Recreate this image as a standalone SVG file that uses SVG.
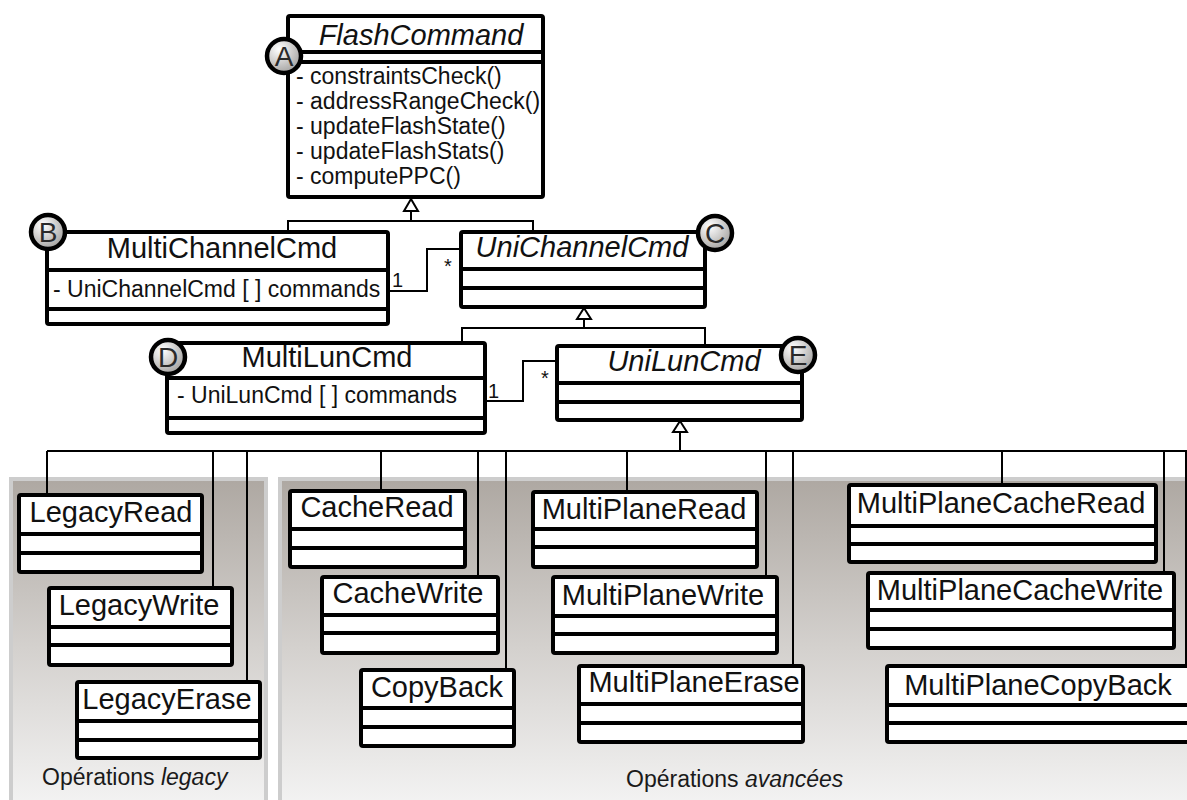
<svg xmlns="http://www.w3.org/2000/svg" width="1187" height="800" viewBox="0 0 1187 800">
  <defs>
    <linearGradient id="panelFill" x1="0" y1="0" x2="0" y2="1">
      <stop offset="0" stop-color="#aea8a2"/>
      <stop offset="0.5" stop-color="#d4d1ce"/>
      <stop offset="1" stop-color="#f6f6f6"/>
    </linearGradient>
    <radialGradient id="badgeFill" cx="0.35" cy="0.3" r="0.8">
      <stop offset="0" stop-color="#ffffff"/>
      <stop offset="1" stop-color="#9c9a98"/>
    </radialGradient>
    <style>
      .box { fill: #ffffff; stroke: #000; stroke-width: 4; }
      .div { stroke: #000; stroke-width: 4; }
      .title { font-family: "Liberation Sans", Arial, sans-serif; font-size: 29px; fill: #111; text-anchor: middle; }
      .abstract { font-style: italic; }
      .member { font-family: "Liberation Sans", Arial, sans-serif; font-size: 23px; fill: #111; }
      .mult { font-family: "Liberation Sans", Arial, sans-serif; font-size: 20px; fill: #111; }
      .panel { fill: url(#panelFill); stroke: #cdcdcd; stroke-width: 4; }
      .caption { font-family: "Liberation Sans", Arial, sans-serif; font-size: 23px; fill: #1a1a1a; }
      .wire { fill: none; stroke: #000; stroke-width: 2; }
      .tri { fill: #fff; stroke: #000; stroke-width: 2; }
      .badge circle { fill: url(#badgeFill); stroke: #000; stroke-width: 4.5; }
      .badge text { font-family: "Liberation Sans", Arial, sans-serif; font-size: 28px; fill: #2a2a2a; text-anchor: middle; }
    </style>
  </defs>

  <!-- package backgrounds -->
  <g id="pkg-legacy">
    <rect class="panel" x="11" y="479" width="255" height="340"/>
    <text class="caption" x="42" y="785">Opérations <tspan font-style="italic">legacy</tspan></text>
  </g>
  <g id="pkg-advanced">
    <rect class="panel" x="280" y="479" width="930" height="340"/>
    <text class="caption" x="626" y="787">Opérations <tspan font-style="italic">avancées</tspan></text>
  </g>

  <!-- connectors -->
  <g id="connectors">
    <!-- generalization to FlashCommand -->
    <polyline class="wire" points="288,232 288,221 533,221 533,232"/>
    <line class="wire" x1="411" y1="221" x2="411" y2="211"/>
    <polygon class="tri" points="411,199 404,211 418,211"/>
    <!-- generalization to UniChannelCmd -->
    <polyline class="wire" points="462,343 462,328 705,328 705,346"/>
    <line class="wire" x1="584" y1="328" x2="584" y2="319"/>
    <polygon class="tri" points="584,308 577,319 591,319"/>
    <!-- generalization to UniLunCmd -->
    <line class="wire" x1="680" y1="451" x2="680" y2="432"/>
    <polygon class="tri" points="680,421 673,432 687,432"/>
    <line class="wire" x1="47" y1="451" x2="1187" y2="451"/>
    <path class="wire" d="M47,451V495 M213,451V588 M247,451V682 M381,451V491 M478,451V577 M506,451V670 M627,451V492 M766,451V577 M793,451V666 M1002,451V485 M1164,451V573 M1186,451V666"/>
    <!-- associations -->
    <polyline class="wire" points="388,291 427,291 427,249 461,249"/>
    <text class="mult" x="392" y="287">1</text>
    <text class="mult" x="444" y="273">*</text>
    <polyline class="wire" points="485,401 523,401 523,361 557,361"/>
    <text class="mult" x="488" y="398">1</text>
    <text class="mult" x="541" y="385">*</text>
  </g>

  <!-- classes -->
  <g id="FlashCommand">
    <rect class="box" x="288" y="16" width="255" height="181" rx="2"/>
    <line class="div" x1="288" y1="52" x2="543" y2="52"/>
    <line class="div" x1="288" y1="62" x2="543" y2="62"/>
    <text class="title abstract" x="421" y="45">FlashCommand</text>
    <text class="member" x="296" y="84">- constraintsCheck()</text>
    <text class="member" x="296" y="109">- addressRangeCheck()</text>
    <text class="member" x="296" y="134">- updateFlashState()</text>
    <text class="member" x="296" y="159">- updateFlashStats()</text>
    <text class="member" x="296" y="184">- computePPC()</text>
  </g>

  <g id="MultiChannelCmd">
    <rect class="box" x="47" y="232" width="341" height="92" rx="2"/>
    <line class="div" x1="47" y1="270" x2="388" y2="270"/>
    <line class="div" x1="47" y1="309" x2="388" y2="309"/>
    <text class="title" x="222" y="258">MultiChannelCmd</text>
    <text class="member" x="53" y="297">- UniChannelCmd [ ] commands</text>
  </g>

  <g id="UniChannelCmd">
    <rect class="box" x="461" y="232" width="244" height="75" rx="2"/>
    <line class="div" x1="461" y1="269" x2="705" y2="269"/>
    <line class="div" x1="461" y1="288" x2="705" y2="288"/>
    <text class="title abstract" x="582" y="257">UniChannelCmd</text>
  </g>

  <g id="MultiLunCmd">
    <rect class="box" x="167" y="343" width="318" height="90" rx="2"/>
    <line class="div" x1="167" y1="378" x2="485" y2="378"/>
    <line class="div" x1="167" y1="418" x2="485" y2="418"/>
    <text class="title" x="327" y="367">MultiLunCmd</text>
    <text class="member" x="177" y="403">- UniLunCmd [ ] commands</text>
  </g>

  <g id="UniLunCmd">
    <rect class="box" x="557" y="346" width="245" height="74" rx="2"/>
    <line class="div" x1="557" y1="383" x2="802" y2="383"/>
    <line class="div" x1="557" y1="402" x2="802" y2="402"/>
    <text class="title abstract" x="684" y="371">UniLunCmd</text>
  </g>

  <g id="LegacyRead">
    <rect class="box" x="19" y="495" width="183" height="77" rx="2"/>
    <line class="div" x1="19" y1="534" x2="202" y2="534"/>
    <line class="div" x1="19" y1="553" x2="202" y2="553"/>
    <text class="title" x="111" y="522">LegacyRead</text>
  </g>
  <g id="LegacyWrite">
    <rect class="box" x="49" y="588" width="183" height="77" rx="2"/>
    <line class="div" x1="49" y1="627" x2="232" y2="627"/>
    <line class="div" x1="49" y1="645" x2="232" y2="645"/>
    <text class="title" x="139" y="615">LegacyWrite</text>
  </g>
  <g id="LegacyErase">
    <rect class="box" x="77" y="682" width="183" height="76" rx="2"/>
    <line class="div" x1="77" y1="721" x2="260" y2="721"/>
    <line class="div" x1="77" y1="740" x2="260" y2="740"/>
    <text class="title" x="167" y="709">LegacyErase</text>
  </g>

  <g id="CacheRead">
    <rect class="box" x="290" y="491" width="175" height="76" rx="2"/>
    <line class="div" x1="290" y1="529" x2="465" y2="529"/>
    <line class="div" x1="290" y1="548" x2="465" y2="548"/>
    <text class="title" x="377" y="517">CacheRead</text>
  </g>
  <g id="CacheWrite">
    <rect class="box" x="322" y="577" width="176" height="76" rx="2"/>
    <line class="div" x1="322" y1="615" x2="498" y2="615"/>
    <line class="div" x1="322" y1="633" x2="498" y2="633"/>
    <text class="title" x="408" y="603">CacheWrite</text>
  </g>
  <g id="CopyBack">
    <rect class="box" x="361" y="670" width="153" height="76" rx="2"/>
    <line class="div" x1="361" y1="708" x2="514" y2="708"/>
    <line class="div" x1="361" y1="727" x2="514" y2="727"/>
    <text class="title" x="437" y="697">CopyBack</text>
  </g>

  <g id="MultiPlaneRead">
    <rect class="box" x="533" y="492" width="224" height="75" rx="2"/>
    <line class="div" x1="533" y1="529" x2="757" y2="529"/>
    <line class="div" x1="533" y1="547" x2="757" y2="547"/>
    <text class="title" x="644" y="519">MultiPlaneRead</text>
  </g>
  <g id="MultiPlaneWrite">
    <rect class="box" x="553" y="577" width="224" height="76" rx="2"/>
    <line class="div" x1="553" y1="616" x2="777" y2="616"/>
    <line class="div" x1="553" y1="634" x2="777" y2="634"/>
    <text class="title" x="663" y="605">MultiPlaneWrite</text>
  </g>
  <g id="MultiPlaneErase">
    <rect class="box" x="579" y="666" width="224" height="76" rx="2"/>
    <line class="div" x1="579" y1="704" x2="803" y2="704"/>
    <line class="div" x1="579" y1="723" x2="803" y2="723"/>
    <text class="title" x="694" y="692">MultiPlaneErase</text>
  </g>

  <g id="MultiPlaneCacheRead">
    <rect class="box" x="849" y="485" width="307" height="77" rx="2"/>
    <line class="div" x1="849" y1="526" x2="1156" y2="526"/>
    <line class="div" x1="849" y1="544" x2="1156" y2="544"/>
    <text class="title" x="1001" y="513">MultiPlaneCacheRead</text>
  </g>
  <g id="MultiPlaneCacheWrite">
    <rect class="box" x="868" y="573" width="306" height="75" rx="2"/>
    <line class="div" x1="868" y1="610" x2="1174" y2="610"/>
    <line class="div" x1="868" y1="629" x2="1174" y2="629"/>
    <text class="title" x="1020" y="600">MultiPlaneCacheWrite</text>
  </g>
  <g id="MultiPlaneCopyBack">
    <rect class="box" x="887" y="666" width="330" height="76" rx="2"/>
    <line class="div" x1="887" y1="705" x2="1217" y2="705"/>
    <line class="div" x1="887" y1="723" x2="1217" y2="723"/>
    <text class="title" x="1038" y="695">MultiPlaneCopyBack</text>
  </g>

  <!-- lettered badges -->
  <g id="badge-A" class="badge"><circle cx="284" cy="56" r="17"/><text x="284" y="66">A</text></g>
  <g id="badge-B" class="badge"><circle cx="48" cy="232" r="17"/><text x="48" y="242">B</text></g>
  <g id="badge-C" class="badge"><circle cx="715" cy="233" r="17"/><text x="715" y="243">C</text></g>
  <g id="badge-D" class="badge"><circle cx="168" cy="357" r="17"/><text x="168" y="367">D</text></g>
  <g id="badge-E" class="badge"><circle cx="798" cy="355" r="17"/><text x="798" y="365">E</text></g>
</svg>
